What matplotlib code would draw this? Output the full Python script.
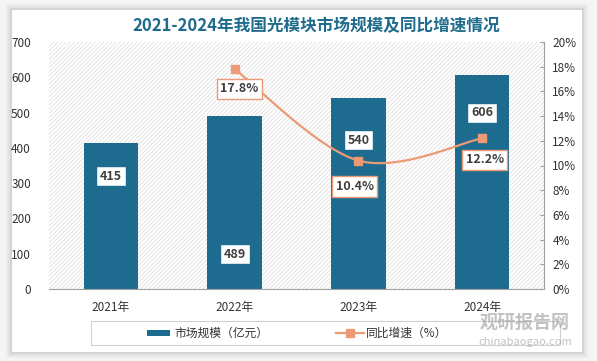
import numpy as np
import matplotlib
matplotlib.use("Agg")
from matplotlib import pyplot as plt
from matplotlib.patches import Rectangle
from matplotlib.lines import Line2D

plt.rcParams['font.family'] = ['Noto Sans CJK SC', 'DejaVu Sans']
plt.rcParams['hatch.linewidth'] = 0.5

# data
years = ["2021年", "2022年", "2023年", "2024年"]
market = [415, 489, 540, 606]
growth_years = [1, 2, 3]
growth = [17.8, 10.4, 12.2]

# label placement (value-axis units)
bar_label_y = [320, 99, 422, 499]
line_label_pos = [(1.04, 16.2), (1.97, 8.3), (3.02, 10.45)]

bar_color = "#1d6b8e"
line_color = "#ec9a76"
W, H = 597, 361

fig = plt.figure(figsize=(W / 100, H / 100), dpi=100)
fig.patch.set_facecolor("#f4f4f4")

# white card with a soft shadow
cx0, cy0, cx1, cy1 = 12, 10, 582, 352
for k, a in [(6, 0.03), (4, 0.04), (2, 0.06)]:
    fig.patches.append(Rectangle(((cx0 - k) / W, 1 - (cy1 + k) / H), (cx1 - cx0 + 2 * k) / W,
                                 (cy1 - cy0 + 2 * k) / H, transform=fig.transFigure,
                                 facecolor="black", alpha=a, edgecolor="none", zorder=-3))
fig.patches.append(Rectangle((cx0 / W, 1 - cy1 / H), (cx1 - cx0) / W, (cy1 - cy0) / H,
                             transform=fig.transFigure, facecolor="white", edgecolor="none", zorder=-2))

ax = fig.add_axes([49 / W, 1 - 289 / H, (544 - 49) / W, (289 - 42) / H])
ax.patch.set_alpha(0)
ax.add_patch(Rectangle((0, 0), 1, 1, transform=ax.transAxes, facecolor="white",
                       edgecolor="#dadada", hatch="////////", linewidth=0, zorder=0))

x = np.arange(len(years))
ax.bar(x, market, width=0.44, color=bar_color, zorder=2)
ax.set_xlim(-0.5, 3.5)
ax.set_ylim(0, 700)
ax.set_yticks(range(0, 701, 100))
ax.set_xticks(x)
ax.set_xticklabels(years)
for s in ["top", "right", "left"]:
    ax.spines[s].set_visible(False)
ax.spines["bottom"].set_color("#a0a0a0")
ax.tick_params(axis="both", length=0, labelsize=8.5, colors="#333333")
ax.tick_params(axis="y", pad=13)
ax.tick_params(axis="x", pad=9)

for xi, v, ly in zip(x, market, bar_label_y):
    ax.text(xi, ly, str(v), ha="center", va="center", fontsize=9, fontweight="bold",
            color="#404040", zorder=5,
            bbox=dict(boxstyle="square,pad=0.3", facecolor="white", edgecolor=bar_color, linewidth=1))

ax2 = ax.twinx()
ax2.set_ylim(0, 20)
ax2.set_yticks(range(0, 21, 2))
ax2.set_yticklabels([f"{v}%" for v in range(0, 21, 2)])
for s in ["top", "left", "bottom"]:
    ax2.spines[s].set_visible(False)
ax2.spines["right"].set_color("#a0a0a0")
ax2.tick_params(axis="y", direction="in", length=3, color="#a0a0a0", labelsize=8.5,
                labelcolor="#333333", pad=6)

# smooth (Catmull-Rom) curve through the growth points
px = np.array(growth_years, dtype=float)
py = np.array(growth, dtype=float)
P = np.column_stack([px, py])
P = np.vstack([P[0], P, P[-1]])
cx, cy = [], []
for i in range(1, len(P) - 2):
    p0, p1, p2, p3 = P[i - 1], P[i], P[i + 1], P[i + 2]
    t = np.linspace(0, 1, 40)[:, None]
    seg = 0.5 * ((2 * p1) + (-p0 + p2) * t + (2 * p0 - 5 * p1 + 4 * p2 - p3) * t ** 2
                 + (-p0 + 3 * p1 - 3 * p2 + p3) * t ** 3)
    cx.extend(seg[:, 0])
    cy.extend(seg[:, 1])
ax2.plot(cx, cy, color=line_color, linewidth=1.6, zorder=3)
ax2.plot(px, py, linestyle="none", marker="s", markersize=6, color=line_color, zorder=4)

for (lx, ly), v in zip(line_label_pos, growth):
    ax2.text(lx, ly, f"{v}%", ha="center", va="center", fontsize=9, fontweight="bold",
             color="#404040", zorder=6,
             bbox=dict(boxstyle="square,pad=0.3", facecolor="white", edgecolor=line_color, linewidth=1))

fig.text(316 / W, 1 - 26 / H, "2021-2024年我国光模块市场规模及同比增速情况", ha="center", va="center",
         fontsize=12, fontweight="bold", color="#1f6b8c")

# legend box
fig.patches.append(Rectangle((91 / W, 1 - 345 / H), (560 - 91) / W, 24 / H, transform=fig.transFigure,
                             facecolor="white", edgecolor="#d0d0d0", linewidth=0.8, zorder=1))
ly = 1 - 333 / H
fig.patches.append(Rectangle((147 / W, ly - 3 / H), 23 / W, 6 / H, transform=fig.transFigure,
                             facecolor=bar_color, edgecolor="none", zorder=2))
fig.text(174 / W, ly, "市场规模（亿元）", ha="left", va="center", fontsize=8.5, color="#333333")
fig.add_artist(Line2D([336 / W, 364 / W], [ly, ly], transform=fig.transFigure,
                      color=line_color, linewidth=1.6, zorder=2))
fig.add_artist(Line2D([350 / W], [ly], transform=fig.transFigure, color=line_color,
                      marker="s", markersize=6, zorder=2))
fig.text(366 / W, ly, "同比增速（%）", ha="left", va="center", fontsize=8.5, color="#333333")

# watermark
fig.text(525 / W, 1 - 322 / H, "观研报告网", ha="center", va="center", fontsize=13, fontweight="bold",
         color="#9a9a9a", alpha=0.6)
fig.text(525 / W, 1 - 342 / H, "chinabaogao.com", ha="center", va="center", fontsize=8,
         color="#9a9a9a", alpha=0.6)

fig.savefig("out.png", dpi=100, facecolor=fig.get_facecolor())
